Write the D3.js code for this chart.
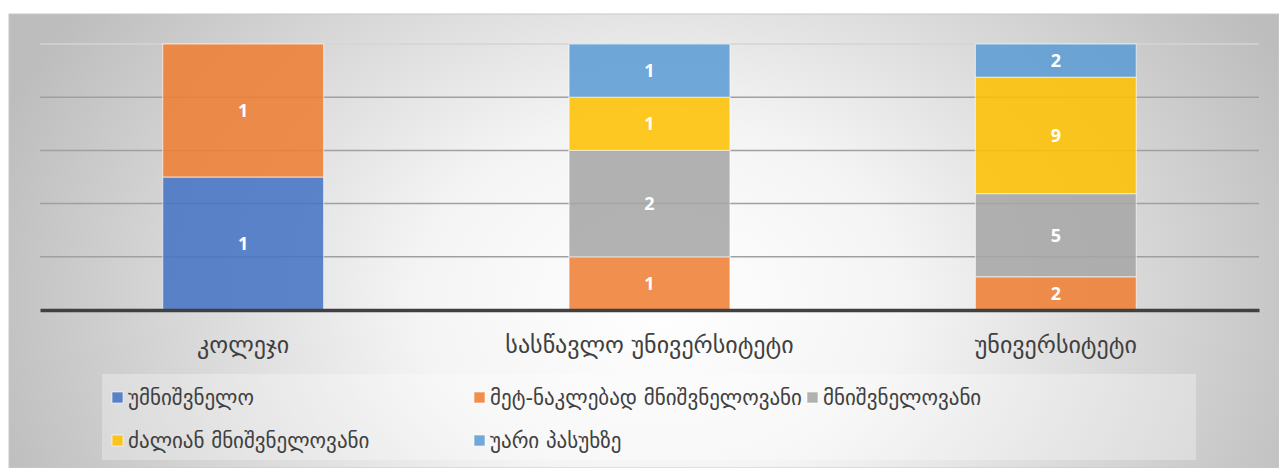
<!DOCTYPE html>
<html><head><meta charset="utf-8">
<script src="https://cdn.jsdelivr.net/npm/d3@7"></script>
<style>html,body{margin:0;padding:0;background:#fff;}svg{display:block;}</style>
</head><body><svg id="c" width="1279" height="468"></svg>
<script>
const categories = ["კოლეჯი", "სასწავლო უნივერსიტეტი", "უნივერსიტეტი"];
const seriesNames = ["უმნიშვნელო", "მეტ-ნაკლებად მნიშვნელოვანი", "მნიშვნელოვანი", "ძალიან მნიშვნელოვანი", "უარი პასუხზე"];
const seriesColors = ["#4472C4", "#ED7D31", "#A5A5A5", "#FFC000", "#5B9BD5"];
// plotted values (segment shares as drawn)
const vUmn = [1, 0, 0];
const vMet = [1, 1, 2];
const vMni = [0, 2, 5];
const vDza = [0, 1, 7];
const vUar = [0, 1, 2];
// data labels as printed in the chart
const lUmn = ["1", "", ""];
const lMet = ["1", "1", "2"];
const lMni = ["", "2", "5"];
const lDza = ["", "1", "9"];
const lUar = ["", "1", "2"];
const gridTicks = [0, 0.2, 0.4, 0.6, 0.8, 1];

const seriesValues = [vUmn, vMet, vMni, vDza, vUar];
const seriesLabels = [lUmn, lMet, lMni, lDza, lUar];

const svg = d3.select("#c");
const defs = svg.append("defs");
const rg = defs.append("radialGradient").attr("id","bg")
  .attr("gradientUnits","userSpaceOnUse").attr("cx",660).attr("cy",300).attr("r",700)
  .attr("gradientTransform","matrix(1,0,0,0.75,0,75)");
rg.append("stop").attr("offset","0").attr("stop-color","#ffffff");
rg.append("stop").attr("offset","0.35").attr("stop-color","#f4f4f4");
rg.append("stop").attr("offset","1").attr("stop-color","#bdbdbd");

svg.append("rect").attr("x",9).attr("y",14).attr("width",1270).attr("height",454)
  .attr("fill","url(#bg)").attr("stroke","#c8c8c8").attr("stroke-width",1);

const x = d3.scaleBand().domain(categories).range([40,1259]).paddingInner(0.604).paddingOuter(0.302);
const y = d3.scaleLinear().domain([0,1]).range([310,44]);

// gridlines
svg.append("g").selectAll("line").data(gridTicks.slice(1)).join("line")
  .attr("x1",40).attr("x2",1259).attr("y1",d=>y(d)).attr("y2",d=>y(d))
  .attr("stroke",(d,i)=> i===4 ? "#d4d4d4" : "#a0a0a0").attr("stroke-width",1.5);

// stacked 100%
const rows = categories.map((c,ci)=>{
  const o = {cat:c};
  seriesNames.forEach((s,si)=>{ o[s] = seriesValues[si][ci]; });
  return o;
});
const stack = d3.stack().keys(seriesNames).offset(d3.stackOffsetExpand);
const layers = stack(rows);

const gBars = svg.append("g");
layers.forEach((layer,si)=>{
  layer.forEach((d,ci)=>{
    if (d[1]-d[0] <= 0) return;
    gBars.append("rect")
      .attr("x",x(categories[ci])).attr("width",x.bandwidth())
      .attr("y",y(d[1])).attr("height",y(d[0])-y(d[1]))
      .attr("fill",seriesColors[si]).attr("fill-opacity",0.86)
      .attr("stroke","#ffffff").attr("stroke-opacity",0.55).attr("stroke-width",1.2);
    const lab = seriesLabels[si][ci];
    if (lab) {
      gBars.append("text")
        .attr("x",x(categories[ci])+x.bandwidth()/2)
        .attr("y",(y(d[0])+y(d[1]))/2)
        .attr("dy","0.36em").attr("text-anchor","middle")
        .attr("font-family","'Open Sans', 'Liberation Sans', sans-serif")
        .attr("font-weight","bold").attr("font-size",18).attr("fill","#ffffff")
        .text(lab);
    }
  });
});

// baseline axis
const xAxis = d3.axisBottom(x).tickSize(0).tickPadding(26);
const ax = svg.append("g").attr("transform","translate(0,310)").call(xAxis);
ax.select(".domain").attr("stroke","#404040").attr("stroke-width",3.5);
ax.selectAll("text").attr("font-family","'DejaVu Sans', sans-serif").attr("font-size",24).attr("fill","#404040");

// legend
svg.append("rect").attr("x",102).attr("y",374).attr("width",1094).attr("height",86)
  .attr("fill","#ffffff").attr("fill-opacity",0.3);
const legPos = [[112,398],[474,398],[807,398],[112,441],[474,441]];
const lg = svg.append("g");
seriesNames.forEach((s,i)=>{
  const [lx,ly] = legPos[i];
  lg.append("rect").attr("x",lx).attr("y",ly-6).attr("width",11).attr("height",11)
    .attr("fill",seriesColors[i]).attr("fill-opacity",0.86).attr("stroke","#ffffff").attr("stroke-opacity",0.6);
  lg.append("text").attr("x",lx+16).attr("y",ly).attr("dy","0.35em")
    .attr("font-family","'DejaVu Sans', sans-serif").attr("font-size",21).attr("fill","#404040")
    .text(s);
});
</script></body></html>
